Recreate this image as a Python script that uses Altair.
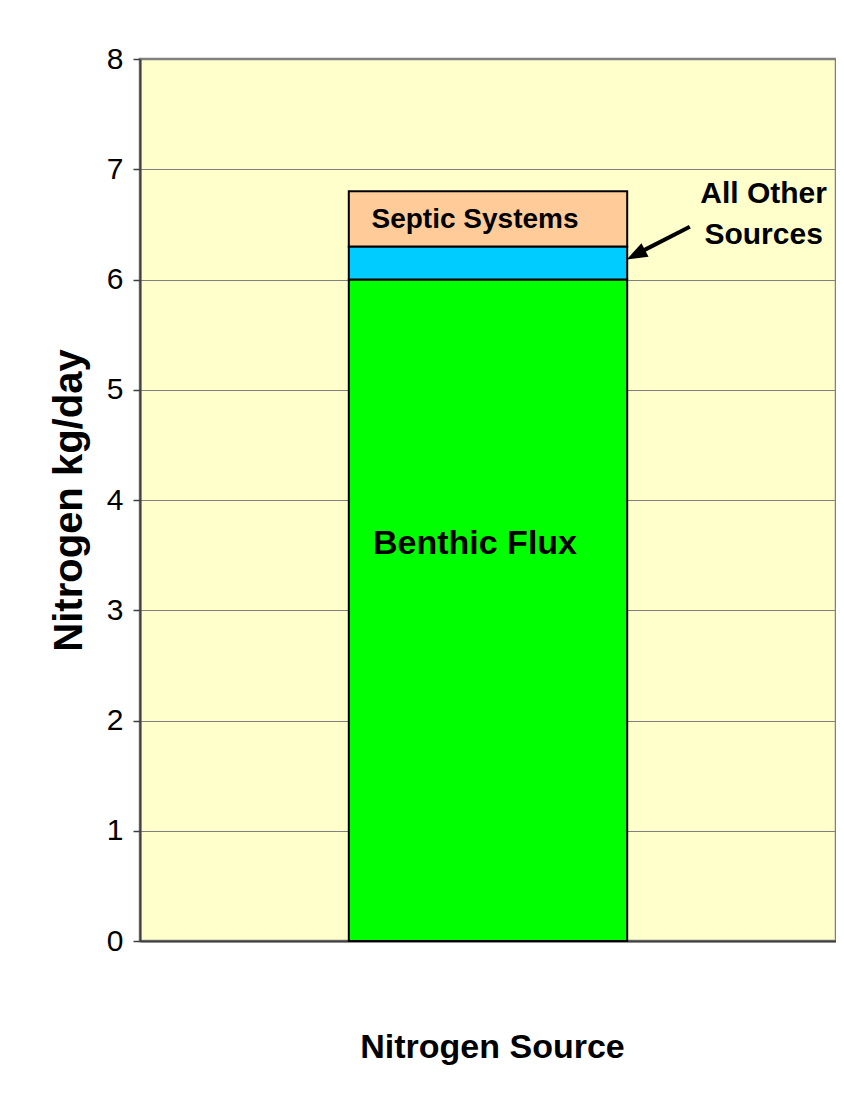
import altair as alt
import pandas as pd

# ---- data ----
sources = ["Benthic Flux", "All Other Sources", "Septic Systems"]
loads = [6.0, 0.3, 0.5]            # kg/day
stack_order = [0, 1, 2]
bar_colors = ["#00FF00", "#00CCFF", "#FFCC99"]
category = "Nitrogen Source"
y_tick_values = [0, 1, 2, 3, 4, 5, 6, 7, 8]

# in-bar labels (anchored in data units)
inbar_text = ["Septic Systems", "Benthic Flux"]
inbar_y = [6.467, 3.51]

# side annotation "All Other Sources" with arrow (annotation x in 0..1 of plot width)
side_text = ["All Other", "Sources"]
side_x = [0.896, 0.896]
side_y = [6.694, 6.322]
arrow_x = [0.790, 0.718]
arrow_y = [6.479, 6.246]
head_x = [0.7125]
head_y = [6.225]

FONT = "Liberation Sans"
PLOT_W, PLOT_H = 696, 882

df = pd.DataFrame({"cat": [category] * 3, "source": sources,
                   "load": loads, "ord": stack_order})

xband = alt.Scale(paddingOuter=0.75, paddingInner=0)
x_axis = alt.Axis(title="Nitrogen Source", labels=False, ticks=False,
                  domainColor="#404040", domainWidth=2,
                  titleFont=FONT, titleFontSize=34, titleFontWeight="bold",
                  titleColor="black", titleY=116, titleX=352,
                  titleAlign="center", titleBaseline="alphabetic")

bars = alt.Chart(df).mark_bar(stroke="black", strokeWidth=2).encode(
    x=alt.X("cat:N", scale=xband, axis=x_axis),
    y=alt.Y("load:Q", stack="zero",
            scale=alt.Scale(domain=[0, 8], nice=False),
            axis=alt.Axis(values=y_tick_values, format="d", title="Nitrogen kg/day",
                          labelFont=FONT, labelFontSize=30, labelColor="black",
                          labelPadding=10, labelBaseline="middle",
                          tickSize=7, tickColor="#404040", tickWidth=1.5,
                          domainColor="#404040", domainWidth=2,
                          grid=True, gridColor="#808080", gridWidth=1,
                          titleFont=FONT, titleFontSize=40, titleFontWeight="bold",
                          titleColor="black", titleAngle=270, titleX=-59,
                          titleY=PLOT_H / 2, titleAlign="center",
                          titleBaseline="alphabetic")),
    color=alt.Color("source:N", scale=alt.Scale(domain=sources, range=bar_colors),
                    legend=None),
    order=alt.Order("ord:Q"),
)

lab_df = pd.DataFrame({"cat": [category] * 2, "text": inbar_text, "y": inbar_y})
septic_lab = alt.Chart(lab_df.iloc[[0]]).mark_text(
    font=FONT, fontWeight="bold", fontSize=28, color="black",
    baseline="alphabetic", align="center", dx=-13).encode(
    x=alt.X("cat:N", scale=xband, axis=x_axis), y=alt.Y("y:Q"), text="text:N")
benthic_lab = alt.Chart(lab_df.iloc[[1]]).mark_text(
    font=FONT, fontWeight="bold", fontSize=34, color="black",
    baseline="alphabetic", align="center", dx=-13).encode(
    x=alt.X("cat:N", scale=xband, axis=x_axis), y=alt.Y("y:Q"), text="text:N")

base = alt.layer(bars, septic_lab, benthic_lab)

ax_scale = alt.Scale(domain=[0, 1], nice=False)

side_df = pd.DataFrame({"ax": side_x, "y": side_y, "text": side_text})
side_lab = alt.Chart(side_df).mark_text(
    font=FONT, fontWeight="bold", fontSize=30, color="black",
    baseline="alphabetic", align="center").encode(
    x=alt.X("ax:Q", scale=ax_scale, axis=None),
    y=alt.Y("y:Q"), text="text:N")

arrow_df = pd.DataFrame({"ax": arrow_x, "y": arrow_y})
arrow = alt.Chart(arrow_df).mark_line(color="black", strokeWidth=4).encode(
    x=alt.X("ax:Q", scale=ax_scale, axis=None),
    y=alt.Y("y:Q"))

head_df = pd.DataFrame({"ax": head_x, "y": head_y})
head = alt.Chart(head_df).mark_point(
    shape="M0,-1L0.75,1L-0.75,1Z", filled=True, color="black", opacity=1,
    size=420, angle=242.6, strokeWidth=0).encode(
    x=alt.X("ax:Q", scale=ax_scale, axis=None),
    y=alt.Y("y:Q"))

annot = alt.layer(side_lab, arrow, head)

chart = alt.layer(base, annot).resolve_scale(
    x="independent"
).properties(
    width=PLOT_W, height=PLOT_H,
    autosize=alt.AutoSizeParams(type="none"),
    padding={"left": 132, "top": 51, "right": 0, "bottom": 149},
    background="white",
).configure_view(
    fill="#FFFFCC", stroke="#808080", strokeWidth=2.5
)

chart.save("out.html", embed_options={"renderer": "svg", "actions": False})
